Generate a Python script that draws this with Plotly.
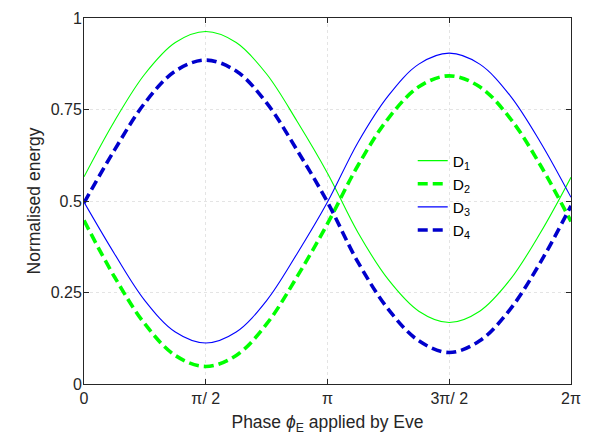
import numpy as np
import plotly.graph_objects as go

# phase samples (multiples of pi/8)
phase_steps = list(range(17))
phase = [k * np.pi / 8 for k in phase_steps]

d1 = [0.566, 0.718, 0.847, 0.933, 0.963, 0.933, 0.847, 0.718, 0.576, 0.414, 0.285, 0.199, 0.168, 0.199, 0.285, 0.414, 0.565]
d2 = [0.447, 0.293, 0.164, 0.078, 0.048, 0.078, 0.164, 0.293, 0.438, 0.597, 0.726, 0.812, 0.842, 0.812, 0.726, 0.597, 0.444]
d3 = [0.497, 0.356, 0.228, 0.142, 0.112, 0.142, 0.228, 0.356, 0.497, 0.660, 0.788, 0.874, 0.904, 0.874, 0.788, 0.660, 0.510]
d4 = [0.495, 0.639, 0.768, 0.855, 0.885, 0.855, 0.768, 0.639, 0.497, 0.333, 0.204, 0.118, 0.086, 0.118, 0.204, 0.333, 0.487]

x_tick_vals = [0, np.pi / 2, np.pi, 3 * np.pi / 2, 2 * np.pi]
x_tick_text = ["0", "π/ 2", "π", "3π/ 2", "2π"]
y_tick_vals = [0, 0.25, 0.5, 0.75, 1]
y_tick_text = ["0", "0.25", "0.5", "0.75", "1"]

series = [
    ("D<sub>1</sub>", d1, "#00ff00", 1.1, "solid"),
    ("D<sub>2</sub>", d2, "#00ff00", 3.6, "10px,5px"),
    ("D<sub>3</sub>", d3, "#0000ff", 1.1, "solid"),
    ("D<sub>4</sub>", d4, "#0000cc", 3.6, "10px,5px"),
]

fig = go.Figure()
for name, vals, color, w, dash in series:
    fig.add_trace(go.Scatter(
        x=phase, y=vals, mode="lines", name=name,
        line=dict(color=color, width=w, dash=dash, shape="spline", smoothing=1.0),
    ))

font_family = "Liberation Sans, Arial, sans-serif"
axis_color = "#262626"
fig.update_layout(
    width=609, height=443,
    margin=dict(l=84, r=38, t=10, b=59),
    paper_bgcolor="white", plot_bgcolor="white",
    font=dict(family=font_family, size=16, color=axis_color),
    showlegend=True,
    legend=dict(
        x=0.675, y=0.515, xanchor="left", yanchor="middle",
        bgcolor="rgba(0,0,0,0)", borderwidth=0,
        font=dict(size=15.5, color="black"),
        tracegroupgap=0,
    ),
    xaxis=dict(
        range=[0, 2 * np.pi], tickvals=x_tick_vals, ticktext=x_tick_text,
        showline=True, linecolor=axis_color, linewidth=1, mirror="ticks",
        ticks="inside", ticklen=5, tickcolor=axis_color,
        showgrid=True, gridcolor="#e4e4e4", griddash="dot", gridwidth=1,
        zeroline=False, tickfont=dict(size=16, color=axis_color),
        title=dict(text="Phase <i>ϕ</i><sub>E</sub> applied by Eve",
                   font=dict(size=17.5, color=axis_color), standoff=9),
    ),
    yaxis=dict(
        range=[0, 1], tickvals=y_tick_vals, ticktext=y_tick_text,
        showline=True, linecolor=axis_color, linewidth=1, mirror="ticks",
        ticks="inside", ticklen=5, tickcolor=axis_color, ticklabelstandoff=-2,
        showgrid=True, gridcolor="#e4e4e4", griddash="dot", gridwidth=1,
        zeroline=False, tickfont=dict(size=16, color=axis_color),
        title=dict(text="Normalised energy", font=dict(size=17.5, color=axis_color), standoff=5),
    ),
)

fig.write_html("out.html", config={"displayModeBar": False},
               post_script="document.body.style.margin='0px';")
